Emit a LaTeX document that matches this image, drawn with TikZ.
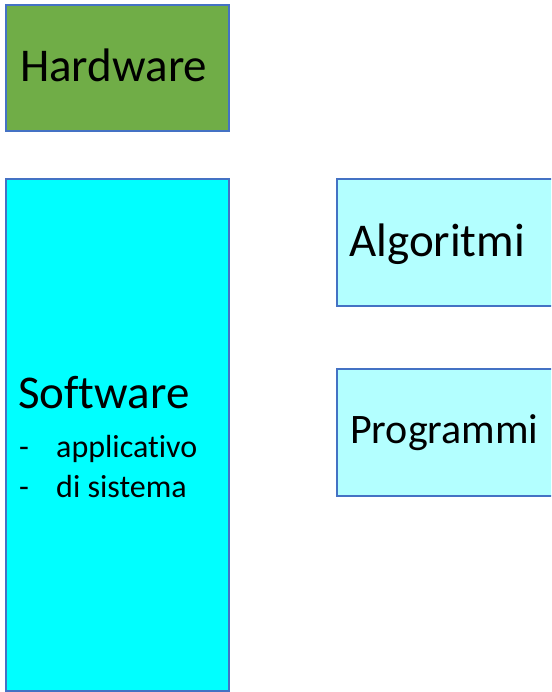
\documentclass[tikz,border=0pt]{standalone}
\usepackage{fontspec}
\setmainfont[Ligatures=NoCommon]{Carlito}
\definecolor{bordblue}{HTML}{4472C4}
\definecolor{hwgreen}{HTML}{70AD47}
\definecolor{swcyan}{HTML}{00FFFF}
\definecolor{lightcyan}{HTML}{B3FFFF}
\begin{document}
\begin{tikzpicture}[x=1pt,y=-1pt,
  boxstyle/.style={draw=bordblue,line width=1.3pt,inner sep=0pt},
  big/.style={font=\fontsize{47}{56}\selectfont,inner sep=0pt},
  small/.style={font=\fontsize{32}{38}\selectfont,inner sep=0pt}]
\useasboundingbox (0,0) rectangle (551,692);
\clip (0,0) rectangle (551,692);
\fill[white] (0,0) rectangle (551,692);
% boxes
\draw[boxstyle,fill=hwgreen] (6,5) rectangle (229,131);
\draw[boxstyle,fill=swcyan] (6,179) rectangle (229,691);
\draw[boxstyle,fill=lightcyan] (337,179) rectangle (600,306);
\draw[boxstyle,fill=lightcyan] (337,369) rectangle (600,496);
% texts
\node[big,anchor=base west] (hwt) at (20,82) {Hardware};
\node[big,anchor=base west] (swt) at (18,408) {Software};
\node[small,anchor=base west] (d1) at (19,457) {-};
\node[small,anchor=base west] (s1) at (56,457) {applicativo};
\node[small,anchor=base west] (d2) at (19,497) {-};
\node[small,anchor=base west] (s2) at (56,497) {di sistema};
\node[big,anchor=base west] (alg) at (349,256) {Algoritmi};
\node[font=\fontsize{42}{50}\selectfont,inner sep=0pt,anchor=base west] (prg) at (350,443) {Programmi};
\end{tikzpicture}
\end{document}
